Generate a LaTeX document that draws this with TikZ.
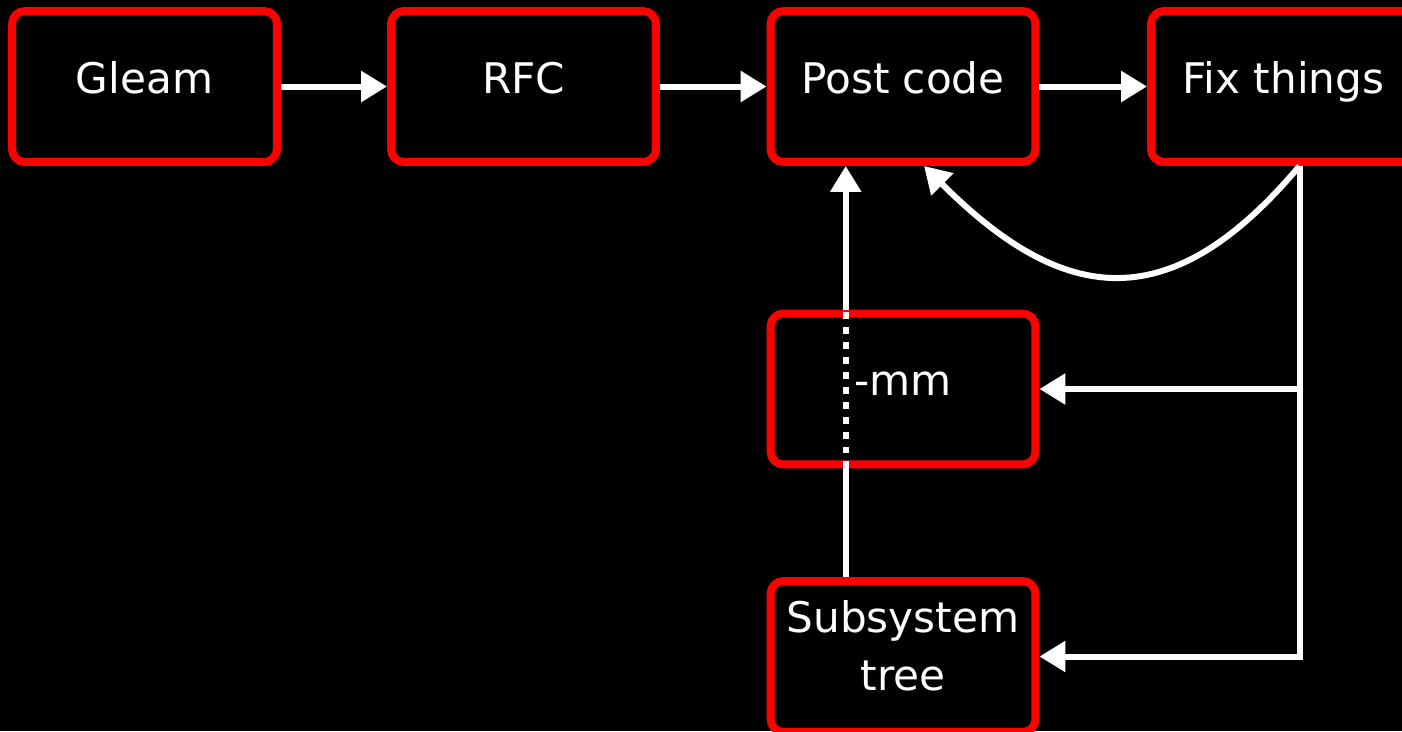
\documentclass[tikz,border=0pt]{standalone}
\usepackage{fontspec}
\setmainfont{DejaVu Sans}
\usetikzlibrary{arrows.meta}
\begin{document}
\begin{tikzpicture}[x=0.02cm,y=-0.02cm,
  box/.style={draw=red, line width=0.16cm, rounded corners=0.26cm, fill=black, text=white,
    minimum width=5.3cm, minimum height=3.02cm, inner sep=0pt, align=center,
    font=\fontsize{24}{33}\selectfont},
  oneline/.style={text height=0.6cm, text depth=0.34cm},
  twoline/.style={text height=1.7cm, text depth=0.36cm},
  conn/.style={draw=white, line width=0.12cm, -{Triangle[length=0.52cm,width=0.6cm]}},
  link/.style={draw=white, line width=0.12cm},
  dotlink/.style={draw=white, line width=0.12cm, dash pattern=on 0.14cm off 0.16cm}]
\fill[black] (0,0) rectangle (1402,731);
\useasboundingbox (0,0) rectangle (1402,731);
\node[box,oneline] (gleam) at (144.5,86.5) {Gleam};
\node[box,oneline] (rfc) at (523.5,86.5) {RFC};
\node[box,oneline] (post) at (903,86.5) {Post code};
\node[box,oneline] (fix) at (1283.5,86.5) {Fix things};
\node[box,oneline] (mm) at (903,389) {-mm};
\node[box,twoline] (sub) at (903,656.5) {Subsystem\\tree};
\draw[conn] (gleam.east) -- (rfc.west);
\draw[conn] (rfc.east) -- (post.west);
\draw[conn] (post.east) -- (fix.west);
\coordinate (fx) at ([xshift=0.32cm]fix.south);
\draw[conn] (fx) .. controls +(-128,152) and +(141,141) .. ([xshift=0.42cm]post.south);
\draw[conn] (fx) |- (sub.east);
\draw[conn] (fx |- mm.east) -- (mm.east);
\coordinate (vb) at ([xshift=-1.146cm]sub.north);
\draw[link] (vb) -- (vb |- mm.south);
\draw[dotlink] (vb |- mm.south) -- (vb |- mm.north);
\draw[conn] (vb |- mm.north) -- (vb |- post.south);
\end{tikzpicture}
\end{document}
